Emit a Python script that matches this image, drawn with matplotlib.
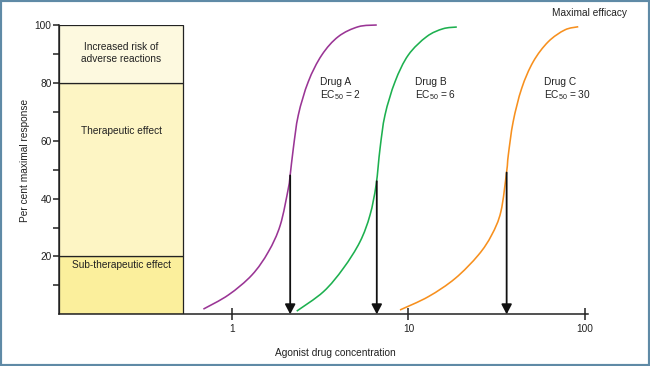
import numpy as np
import matplotlib
matplotlib.use('Agg')
import matplotlib.pyplot as plt
from matplotlib.path import Path
from matplotlib.patches import PathPatch, Rectangle

plt.rcParams['font.family'] = ['Liberation Sans', 'DejaVu Sans']
plt.rcParams['mathtext.fontset'] = 'custom'
plt.rcParams['mathtext.rm'] = 'Liberation Sans'
plt.rcParams['mathtext.it'] = 'Liberation Sans:italic'
plt.rcParams['mathtext.default'] = 'regular'

# ---- data ----
drug_a_conc = [0.69, 0.957, 1.30, 1.61, 1.88, 2.09, 2.14, 2.23, 2.38, 2.71, 3.23, 4.01, 5.20, 6.62]
drug_a_resp = [1.8, 6.7, 13.6, 21.6, 30.8, 43.6, 48.1, 57.4, 68.9, 80.4, 89.6, 96.0, 99.4, 100]
drug_b_conc = [2.33, 3.30, 4.28, 5.32, 6.06, 6.56, 6.91, 7.37, 8.40, 9.98, 12.7, 15.7, 18.8]
drug_b_resp = [1.1, 7.8, 15.9, 25.1, 34.3, 44.7, 57.4, 68.9, 80.4, 89.6, 96.0, 98.7, 99.3]
drug_c_conc = [8.96, 12.97, 18.4, 24.9, 29.6, 33.4, 36.0, 36.8, 39.2, 43.8, 50.9, 61.9, 76.9, 91.6]
drug_c_resp = [1.5, 6.1, 12.4, 20.5, 27.4, 35.5, 49.3, 55.1, 66.6, 78.1, 87.3, 94.2, 98.3, 99.4]

drug_names = ['Drug A', 'Drug B', 'Drug C']
ec50_labels = ['2', '6', '30']
ec50_positions = [2.14, 6.62, 36.0]
arrow_tops = [48, 46, 49]
label_x = [3.16, 10.9, 58.6]

zone_bounds = [0, 20, 80, 100]
zone_labels = ['Sub-therapeutic effect', 'Therapeutic effect',
               'Increased risk of\nadverse reactions']
zone_x = [0.105, 0.53]

x_ticks = [1, 10, 100]
x_tick_labels = ['1', '10', '100']
y_ticks = [20, 40, 60, 80, 100]
y_minor = [10, 30, 50, 70, 90]

colors = ['#9a3595', '#1db04f', '#f7901e']
zone_colors = ['#fbef9c', '#fdf5c4', '#fdf9df']


def smooth_path(xs, ys):
    pts = np.column_stack([np.log10(xs), np.asarray(ys, float)])
    verts = [pts[0]]
    codes = [Path.MOVETO]
    n = len(pts)
    for i in range(n - 1):
        p0 = pts[i - 1] if i > 0 else pts[i]
        p1 = pts[i]
        p2 = pts[i + 1]
        p3 = pts[i + 2] if i + 2 < n else pts[i + 1]
        verts += [p1 + (p2 - p0) / 6, p2 - (p3 - p1) / 6, p2]
        codes += [Path.CURVE4] * 3
    verts = np.array(verts)
    verts[:, 0] = 10 ** verts[:, 0]
    return Path(verts, codes)


fig = plt.figure(figsize=(6.5, 3.66), dpi=100)
ax = fig.add_axes([59 / 650, 1 - 314.3 / 366, (588 - 59) / 650, (314.3 - 25) / 366])
ax.set_xscale('log')
ax.set_xlim(0.105, 104)
ax.set_ylim(0, 100)

for s in ['top', 'right']:
    ax.spines[s].set_visible(False)
for s in ['left', 'bottom']:
    ax.spines[s].set_linewidth(1.1)
    ax.spines[s].set_color('#222222')

# zones
for i in range(3):
    lo, hi = zone_bounds[i], zone_bounds[i + 1]
    ax.add_patch(Rectangle((zone_x[0], lo), zone_x[1] - zone_x[0], hi - lo,
                           facecolor=zone_colors[i], edgecolor='#222222', lw=0.9, zorder=1))
xc = np.sqrt(zone_x[0] * zone_x[1])
ax.text(xc, 18.8, zone_labels[0], ha='center', va='top', fontsize=7.3, color='#222222')
ax.text(xc, 63.4, zone_labels[1], ha='center', va='center', fontsize=7.3, color='#222222')
ax.text(xc, 90.3, zone_labels[2], ha='center', va='center', fontsize=7.3, color='#222222',
        linespacing=1.3)

# curves
for xs, ys, c in [(drug_a_conc, drug_a_resp, colors[0]),
                  (drug_b_conc, drug_b_resp, colors[1]),
                  (drug_c_conc, drug_c_resp, colors[2])]:
    ax.add_patch(PathPatch(smooth_path(xs, ys), facecolor='none', edgecolor=c,
                           lw=1.15, transform=ax.transData, zorder=3, clip_on=False))

# arrows
for x, top in zip(ec50_positions, arrow_tops):
    ax.annotate('', xy=(x, 0), xytext=(x, top),
                arrowprops=dict(arrowstyle='-|>,head_length=0.42,head_width=0.22',
                                color='#111111', lw=1.3,
                                mutation_scale=14, shrinkA=0, shrinkB=0), zorder=4)

# drug labels
for name, ec, lx in zip(drug_names, ec50_labels, label_x):
    ax.text(lx, 80.2, name, ha='left', va='center', fontsize=7.3, color='#222222')
    ax.text(lx, 75.6, r'EC$_{50}$ = ' + ec, ha='left', va='center', fontsize=7.3, color='#222222')

# ticks
ax.set_xticks(x_ticks)
ax.set_xticklabels(x_tick_labels)
ax.xaxis.set_minor_locator(matplotlib.ticker.NullLocator())
ax.tick_params(axis='x', which='major', direction='inout', length=8, width=1.1,
               labelsize=7.3, pad=3, colors='#222222')
ax.set_yticks(y_ticks)
ax.set_yticks(y_minor, minor=True)
ax.tick_params(axis='y', which='both', direction='out', length=4.3, width=1.1,
               labelsize=7.3, pad=1, colors='#222222')

fig.text(25 / 650, 1 - 160 / 366, 'Per cent maximal response', rotation=90,
         ha='center', va='center', fontsize=7.3, color='#222222')
fig.text(335 / 650, 1 - 353 / 366, 'Agonist drug concentration',
         ha='center', va='center', fontsize=7.3, color='#222222')
fig.text(627 / 650, 1 - 13.5 / 366, 'Maximal efficacy', ha='right', va='center',
         fontsize=7.3, color='#222222')

fig.add_artist(Rectangle((0, 0), 1, 1, transform=fig.transFigure, fill=False,
                         edgecolor='#5f8aa6', lw=3))

fig.savefig('out.png', dpi=100)
